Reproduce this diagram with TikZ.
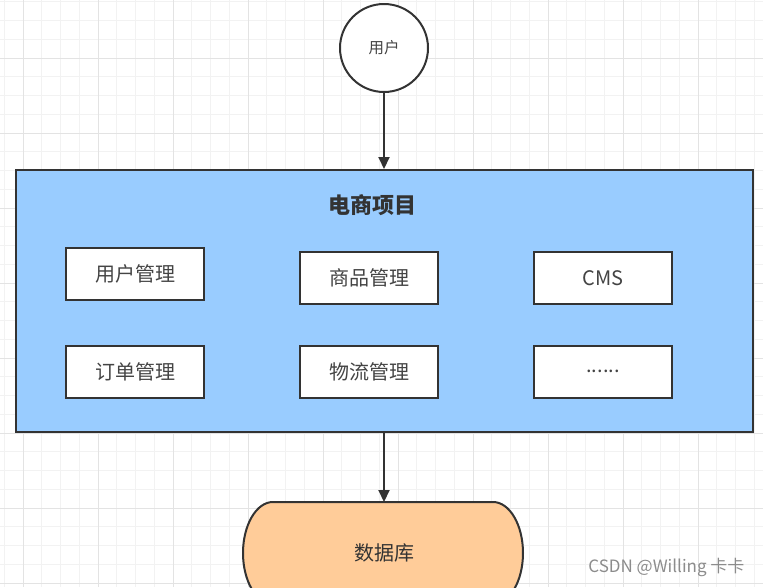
\documentclass[tikz,border=0pt]{standalone}
\usepackage{fontspec}
\setmainfont{Noto Sans CJK SC}
\usetikzlibrary{arrows.meta}
\definecolor{edge}{HTML}{333333}
\definecolor{txt}{HTML}{444444}
\definecolor{blueFill}{HTML}{99CCFF}
\definecolor{dbFill}{HTML}{FFCC99}
\definecolor{gridMinor}{HTML}{F2F2F2}
\definecolor{gridMajor}{HTML}{E3E3E3}
\tikzset{
  box/.style={draw=edge, line width=2pt, fill=white, minimum width=138pt, minimum height=52pt, inner sep=0pt,
    text=txt, font=\fontsize{20}{20}\selectfont},
  conn/.style={draw=edge, line width=2pt, -{Triangle[length=12pt,width=11pt]}},
}
\begin{document}
\begin{tikzpicture}[x=1pt,y=-1pt]
\useasboundingbox (0,0) rectangle (763,587);
\clip (0,0) rectangle (763,587);
\fill[white] (0,0) rectangle (763,587);
% grid
\foreach \i in {0,...,41} {
  \pgfmathsetmacro{\gx}{4.25+18.75*\i}
  \draw[gridMinor, line width=1pt] (\gx,0) -- (\gx,587);
}
\foreach \i in {0,...,32} {
  \pgfmathsetmacro{\gy}{1.75+18.75*\i}
  \draw[gridMinor, line width=1pt] (0,\gy) -- (763,\gy);
}
\foreach \i in {0,...,10} {
  \pgfmathsetmacro{\gx}{23+75*\i}
  \draw[gridMajor, line width=1pt] (\gx,0) -- (\gx,587);
}
\foreach \i in {0,...,7} {
  \pgfmathsetmacro{\gy}{58+75*\i}
  \draw[gridMajor, line width=1pt] (0,\gy) -- (763,\gy);
}
% user
\node[circle, draw=edge, line width=2pt, fill=white, minimum size=88pt, inner sep=0pt, text=txt,
  font=\fontsize{15.5}{15.5}\selectfont] (user) at (384,48) {用户};
% project container
\node[draw=edge, line width=2pt, fill=blueFill, minimum width=737pt, minimum height=262pt, inner sep=0pt] (proj) at (384.5,301) {};
\node[text=edge, font=\fontsize{22}{22}\selectfont\bfseries] (title) at (372,205) {电商项目};
% modules
\node[box] (m1) at (135,274) {用户管理};
\node[box] (m2) at (369,278) {商品管理};
\node[box] (m3) at (603,278) {CMS};
\node[box] (m4) at (135,372) {订单管理};
\node[box] (m5) at (369,372) {物流管理};
\node[box] (m6) at (603,371.5) {......};
% database
\draw[draw=edge, line width=2pt, fill=dbFill] (273,502) -- (493,502) arc (-90:90:30 and 51) -- (273,604) arc (90:270:30 and 51) -- cycle;
\coordinate (dbtop) at (384,502);
\node[text=edge, font=\fontsize{20}{20}\selectfont] (db) at (384,553) {数据库};
% connectors
\draw[conn] (user.south) -- (user.south |- proj.north);
\draw[conn] (proj.south -| dbtop) -- (dbtop);
% watermark
\node[text=gray!90, font=\fontsize{17}{17}\selectfont, anchor=east] (wm) at (748,567) {CSDN @Willing 卡卡};
\end{tikzpicture}
\end{document}
